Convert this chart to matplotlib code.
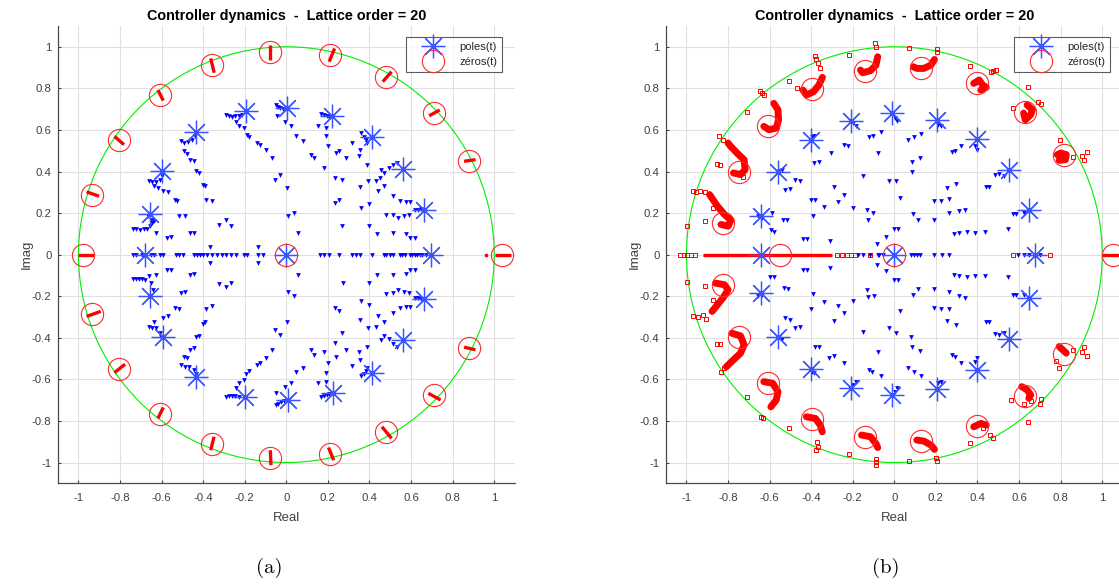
import matplotlib
matplotlib.use('Agg')
import matplotlib.pyplot as plt
from matplotlib.lines import Line2D
from matplotlib.patches import Circle

plt.rcParams['font.family'] = ['Liberation Sans', 'DejaVu Sans']

# ---------------- texts ----------------
TITLE = 'Controller dynamics  -  Lattice order = 20'
X_LABEL = 'Real'
Y_LABEL = 'Imag'
LEGEND_LABELS = ['poles(t)', 'zéros(t)']
CAPTIONS = ['(a)', '(b)']
TICKS = [-1, -0.8, -0.6, -0.4, -0.2, 0, 0.2, 0.4, 0.6, 0.8, 1]
TICK_LABELS = ['-1', '-0.8', '-0.6', '-0.4', '-0.2', '0', '0.2', '0.4', '0.6', '0.8', '1']

# ---------------- panel (a) data ----------------
a_poles = [(0.695, 0.0), (0.663, 0.217), (0.561, 0.412), (0.412, 0.566), (0.218, 0.669),
           (0.005, 0.704), (-0.196, 0.689), (-0.433, 0.589), (-0.596, 0.401), (-0.656, 0.196),
           (-0.680, 0.0), (0.0, 0.0), (-0.656, -0.198), (-0.592, -0.397), (-0.434, -0.587),
           (-0.201, -0.683), (0.009, -0.699), (0.223, -0.667), (0.412, -0.567), (0.563, -0.410),
           (0.663, -0.214)]
a_zeros = [(-0.979, 0.0), (-0.934, 0.289), (-0.807, 0.553), (-0.608, 0.768), (-0.359, 0.912),
           (-0.077, 0.976), (0.209, 0.960), (0.481, 0.856), (0.712, 0.681), (0.879, 0.449),
           (1.039, 0.0), (0.0, 0.0), (-0.934, -0.286), (-0.807, -0.550), (-0.608, -0.767),
           (-0.359, -0.913), (-0.077, -0.977), (0.209, -0.961), (0.481, -0.855), (0.711, -0.675),
           (0.879, -0.447)]
a_zero_tracks = [((-0.961, 0.302), (-0.901, 0.281)), ((-0.827, 0.569), (-0.781, 0.529)),
                 ((-0.618, 0.792), (-0.592, 0.741)), ((-0.364, 0.944), (-0.347, 0.875)),
                 ((-0.077, 1.008), (-0.077, 0.936)), ((0.232, 0.992), (0.206, 0.928)),
                 ((0.506, 0.880), (0.464, 0.832)), ((0.738, 0.696), (0.687, 0.668)),
                 ((0.910, 0.457), (0.855, 0.449)),
                 ((-0.961, -0.297), (-0.893, -0.273)), ((-0.827, -0.568), (-0.776, -0.527)),
                 ((-0.618, -0.788), (-0.592, -0.735)), ((-0.364, -0.941), (-0.348, -0.876)),
                 ((-0.074, -1.013), (-0.077, -0.941)), ((0.228, -0.989), (0.203, -0.928)),
                 ((0.506, -0.884), (0.460, -0.828)), ((0.742, -0.699), (0.683, -0.667)),
                 ((0.910, -0.458), (0.855, -0.445)),
                 ((-1.0, 0.0), (-0.924, 0.0)), ((1.004, 0.0), (1.082, 0.0))]
a_zero_dots = [(0.961, 0.0), (0.0, 0.0)]

a_track_upper = [
    (-0.29, 0.672), (-0.275, 0.665), (-0.26, 0.662), (-0.245, 0.665), (-0.23, 0.668), (-0.215, 0.672),
    (-0.24, 0.64), (-0.23, 0.62), (-0.206, 0.609), (-0.19, 0.577), (-0.18, 0.566), (-0.14, 0.537),
    (-0.125, 0.526), (-0.10, 0.505), (-0.07, 0.465), (-0.055, 0.361), (-0.03, 0.385), (0.005, 0.321),
    (0.009, 0.188), (0.038, 0.201), (0.057, 0.105),
    (-0.05, 0.718), (-0.04, 0.712), (-0.03, 0.705), (-0.015, 0.70), (-0.043, 0.665), (-0.005, 0.64),
    (0.02, 0.62), (0.046, 0.569), (0.082, 0.545), (0.12, 0.48), (0.134, 0.465), (0.18, 0.417),
    (0.232, 0.369), (0.266, 0.361), (0.232, 0.249), (0.254, 0.265), (0.27, 0.14),
    (0.165, 0.675), (0.18, 0.67), (0.195, 0.665), (0.205, 0.66), (0.151, 0.62), (0.192, 0.609),
    (0.189, 0.569), (0.2, 0.521), (0.24, 0.489), (0.254, 0.497), (0.288, 0.465), (0.355, 0.324),
    (0.391, 0.353), (0.357, 0.225), (0.398, 0.246), (0.398, 0.137), (0.438, 0.097),
    (0.36, 0.585), (0.375, 0.565), (0.385, 0.55), (0.39, 0.535), (0.318, 0.537), (0.352, 0.505),
    (0.349, 0.473), (0.386, 0.433), (0.455, 0.409), (0.443, 0.305), (0.47, 0.33),
    (0.429, 0.353), (0.45, 0.37), (0.472, 0.393), (0.494, 0.417), (0.512, 0.433), (0.53, 0.44),
    (0.512, 0.281), (0.545, 0.258), (0.575, 0.252), (0.597, 0.252),
    (0.62, 0.217), (0.635, 0.217), (0.65, 0.22), (0.515, 0.193), (0.481, 0.193), (0.536, 0.174),
    (0.566, 0.185), (0.592, 0.193), (0.512, 0.105), (0.575, 0.097), (0.597, 0.081), (0.621, 0.081),
    (-0.506, 0.545), (-0.49, 0.535), (-0.472, 0.540), (-0.455, 0.553), (-0.44, 0.57), (-0.494, 0.497),
    (-0.477, 0.486), (-0.464, 0.457), (-0.446, 0.449), (-0.433, 0.401), (-0.419, 0.393),
    (-0.403, 0.337), (-0.391, 0.329), (-0.386, 0.265), (-0.357, 0.257), (-0.326, 0.145),
    (-0.292, 0.166), (-0.266, 0.137),
    (-0.661, 0.353), (-0.644, 0.348), (-0.627, 0.348), (-0.61, 0.361), (-0.598, 0.377),
    (-0.639, 0.329), (-0.618, 0.321), (-0.592, 0.305), (-0.57, 0.300), (-0.536, 0.265),
    (-0.524, 0.257), (-0.515, 0.188), (-0.489, 0.185), (-0.464, 0.105), (-0.446, 0.102),
    (-0.575, 0.081), (-0.553, 0.084),
    (-0.738, 0.121), (-0.721, 0.121), (-0.704, 0.118), (-0.687, 0.121), (-0.670, 0.125),
    (-0.656, 0.137), (-0.644, 0.153), (-0.652, 0.169), (-0.635, 0.161), (-0.666, 0.185),
    (-0.627, 0.105), (-0.369, 0.038), (-0.134, 0.038)]

a_track_lower = [
    (-0.74, -0.117), (-0.725, -0.117), (-0.71, -0.115), (-0.695, -0.117), (-0.68, -0.12),
    (-0.652, -0.137), (-0.643, -0.169), (-0.661, -0.105), (-0.627, -0.096), (-0.575, -0.076),
    (-0.553, -0.076),
    (-0.661, -0.349), (-0.645, -0.352), (-0.627, -0.352), (-0.610, -0.376), (-0.602, -0.397),
    (-0.635, -0.322), (-0.592, -0.305), (-0.570, -0.297), (-0.536, -0.257), (-0.518, -0.262),
    (-0.506, -0.185), (-0.489, -0.182), (-0.464, -0.096), (-0.446, -0.093),
    (-0.506, -0.531), (-0.489, -0.539), (-0.467, -0.542), (-0.446, -0.555), (-0.433, -0.574),
    (-0.494, -0.490), (-0.477, -0.498), (-0.464, -0.458), (-0.446, -0.450), (-0.433, -0.397),
    (-0.419, -0.390), (-0.403, -0.333), (-0.391, -0.326), (-0.386, -0.262), (-0.357, -0.249),
    (-0.326, -0.140), (-0.292, -0.156), (-0.266, -0.137),
    (-0.29, -0.685), (-0.275, -0.680), (-0.26, -0.678), (-0.245, -0.680), (-0.23, -0.684),
    (-0.240, -0.643), (-0.227, -0.619), (-0.206, -0.603), (-0.192, -0.574), (-0.180, -0.562),
    (-0.141, -0.531), (-0.125, -0.523), (-0.10, -0.498), (-0.069, -0.458), (-0.055, -0.362),
    (-0.031, -0.386), (0.005, -0.322), (0.009, -0.182), (0.038, -0.201), (0.057, -0.096),
    (-0.05, -0.725), (-0.04, -0.72), (-0.025, -0.71), (-0.01, -0.705), (-0.052, -0.664),
    (-0.005, -0.638), (0.021, -0.619), (0.046, -0.563), (0.082, -0.547), (0.12, -0.458),
    (0.134, -0.482), (0.180, -0.466), (0.232, -0.423), (0.266, -0.378), (0.232, -0.257),
    (0.254, -0.273), (0.271, -0.137),
    (0.165, -0.685), (0.18, -0.68), (0.195, -0.675), (0.205, -0.668), (0.151, -0.619),
    (0.192, -0.611), (0.189, -0.567), (0.2, -0.523), (0.24, -0.490), (0.288, -0.458),
    (0.355, -0.313), (0.391, -0.354), (0.357, -0.225), (0.398, -0.241), (0.398, -0.137),
    (0.438, -0.096),
    (0.36, -0.585), (0.372, -0.572), (0.385, -0.560), (0.39, -0.545), (0.318, -0.535),
    (0.352, -0.506), (0.349, -0.466), (0.386, -0.442), (0.455, -0.410), (0.443, -0.297),
    (0.472, -0.322),
    (0.429, -0.346), (0.472, -0.391), (0.494, -0.407), (0.512, -0.43), (0.532, -0.446),
    (0.512, -0.281), (0.545, -0.257), (0.575, -0.252), (0.597, -0.252),
    (0.62, -0.209), (0.635, -0.209), (0.65, -0.212), (0.515, -0.185), (0.481, -0.190),
    (0.536, -0.169), (0.566, -0.182), (0.592, -0.185), (0.512, -0.100), (0.575, -0.092),
    (0.597, -0.076), (0.621, -0.072), (-0.369, -0.038), (-0.134, -0.038)]

a_track_real = [-0.738, -0.721, -0.695, -0.652, -0.635, -0.610, -0.593, -0.532, -0.515, -0.498,
                -0.446, -0.429, -0.415, -0.403, -0.381, -0.357, -0.335, -0.309, -0.288, -0.266,
                -0.240, -0.206, -0.189, -0.137, -0.112, 0.163, 0.180, 0.206, 0.254, 0.318, 0.335,
                0.352, 0.412, 0.469, 0.481, 0.498, 0.515, 0.546, 0.558, 0.570, 0.594, 0.606, 0.618,
                0.630, 0.642, 0.654, 0.670]

# ---------------- panel (b) data ----------------
b_poles = [(-0.640, 0.0), (-0.642, 0.188), (-0.560, 0.396), (-0.401, 0.553), (-0.209, 0.645),
           (-0.009, 0.681), (0.205, 0.649), (0.396, 0.556), (0.550, 0.406), (0.647, 0.214),
           (0.678, 0.0), (0.0, 0.0), (-0.642, -0.185), (-0.560, -0.394), (-0.401, -0.550),
           (-0.209, -0.643), (-0.009, -0.675), (0.205, -0.648), (0.396, -0.554), (0.550, -0.405),
           (0.647, -0.209)]
b_zeros = [(-0.551, 0.0), (1.05, 0.0), (0.0, 0.0), (-0.822, 0.153), (-0.748, 0.398),
           (-0.606, 0.620), (-0.397, 0.796), (-0.140, 0.885), (0.130, 0.896), (0.396, 0.827),
           (0.630, 0.684), (0.818, 0.478), (-0.822, -0.145), (-0.748, -0.394), (-0.606, -0.619),
           (-0.397, -0.793), (-0.140, -0.879), (0.130, -0.896), (0.396, -0.825), (0.630, -0.680),
           (0.818, -0.478)]
b_zero_blobs = [
    [(-0.889, 0.289), (-0.851, 0.233), (-0.817, 0.193), (-0.786, 0.166), (-0.80, 0.137), (-0.834, 0.145)],
    [(-0.80, 0.537), (-0.791, 0.525), (-0.757, 0.489), (-0.723, 0.457), (-0.718, 0.409), (-0.740, 0.385), (-0.774, 0.393)],
    [(-0.580, 0.728), (-0.560, 0.697), (-0.557, 0.649), (-0.568, 0.609), (-0.603, 0.601), (-0.628, 0.617)],
    [(-0.346, 0.853), (-0.363, 0.816), (-0.389, 0.784), (-0.423, 0.768), (-0.440, 0.792)],
    [(-0.080, 0.952), (-0.089, 0.911), (-0.115, 0.885), (-0.152, 0.875), (-0.163, 0.888)],
    [(0.193, 0.939), (0.176, 0.912), (0.142, 0.896), (0.108, 0.896), (0.091, 0.904)],
    [(0.382, 0.824), (0.408, 0.840), (0.425, 0.816), (0.442, 0.805), (0.416, 0.792)],
    [(0.639, 0.720), (0.664, 0.697), (0.656, 0.673), (0.630, 0.649), (0.622, 0.681)],
    [(0.784, 0.481), (0.801, 0.489), (0.827, 0.481), (0.823, 0.457), (0.793, 0.454)],
    [(-0.860, -0.137), (-0.817, -0.145), (-0.800, -0.169), (-0.825, -0.209), (-0.851, -0.241), (-0.877, -0.273)],
    [(-0.782, -0.378), (-0.740, -0.391), (-0.723, -0.434), (-0.740, -0.474), (-0.774, -0.506), (-0.808, -0.539)],
    [(-0.628, -0.611), (-0.585, -0.619), (-0.560, -0.659), (-0.568, -0.699), (-0.594, -0.732)],
    [(-0.423, -0.780), (-0.380, -0.788), (-0.356, -0.820), (-0.347, -0.852)],
    [(-0.158, -0.868), (-0.115, -0.876), (-0.089, -0.908), (-0.080, -0.928)],
    [(0.108, -0.892), (0.142, -0.897), (0.176, -0.916), (0.193, -0.937)],
    [(0.382, -0.828), (0.416, -0.812), (0.442, -0.820)],
    [(0.613, -0.635), (0.639, -0.651), (0.656, -0.675), (0.647, -0.691)],
    [(0.793, -0.442), (0.810, -0.458), (0.827, -0.474)]]
b_zero_real_lines = [[(-0.920, 0.0), (-0.300, 0.0)], [(0.998, 0.0), (1.12, 0.0)]]
b_zero_scatter = [
    (-0.911, 0.161), (-0.872, 0.225), (-0.997, 0.137), (-0.971, 0.305), (-0.954, 0.300),
    (-0.937, 0.305), (-0.911, 0.300), (-0.854, 0.438), (-0.837, 0.433), (-0.842, 0.569),
    (-0.825, 0.553), (-0.728, 0.374), (-0.711, 0.685), (-0.646, 0.789), (-0.637, 0.780),
    (-0.625, 0.768), (-0.509, 0.837), (-0.466, 0.800), (-0.380, 0.955), (-0.375, 0.939),
    (-0.368, 0.920), (-0.358, 0.896), (-0.217, 0.960), (-0.092, 1.016), (-0.089, 1.0),
    (0.070, 0.992), (0.207, 0.987), (0.203, 0.977), (0.365, 0.907), (0.464, 0.880),
    (0.476, 0.885), (0.488, 0.888), (0.644, 0.805), (0.570, 0.704), (0.690, 0.736),
    (0.704, 0.725), (0.798, 0.553), (0.861, 0.470), (0.904, 0.473), (0.913, 0.454),
    (0.927, 0.492),
    (-0.997, -0.132), (-0.911, -0.153), (-0.971, -0.297), (-0.945, -0.302), (-0.920, -0.289),
    (-0.906, -0.310), (-0.872, -0.220), (-0.851, -0.431), (-0.837, -0.429), (-0.834, -0.563),
    (-0.820, -0.547), (-0.711, -0.683), (-0.642, -0.780), (-0.632, -0.788), (-0.509, -0.836),
    (-0.372, -0.900), (-0.375, -0.941), (-0.368, -0.924), (-0.217, -0.957), (-0.089, -0.981),
    (-0.089, -1.013), (-0.089, -0.997), (0.070, -0.992), (0.202, -0.976), (0.207, -0.992),
    (0.365, -0.905), (0.459, -0.868), (0.476, -0.884), (0.425, -0.836), (0.562, -0.699),
    (0.622, -0.719), (0.656, -0.703), (0.699, -0.719), (0.704, -0.696), (0.644, -0.804),
    (0.776, -0.514), (0.793, -0.547), (0.861, -0.458), (0.904, -0.466), (0.927, -0.487),
    (0.913, -0.445),
    (-1.031, 0.0), (-1.014, 0.0), (-0.997, 0.0), (-0.979, 0.0), (-0.957, 0.0), (-0.277, 0.0),
    (-0.252, 0.0), (-0.226, 0.0), (-0.209, 0.0), (-0.187, 0.0), (-0.115, 0.0),
    (0.570, 0.0), (0.747, 0.0), (0.0, 0.0)]

b_track = [
    (-0.385, 0.441), (-0.363, 0.444), (-0.303, 0.489), (-0.243, 0.526), (-0.221, 0.521),
    (-0.526, 0.310), (-0.500, 0.316), (-0.478, 0.361), (-0.452, 0.353), (-0.401, 0.262),
    (-0.384, 0.265), (-0.337, 0.230), (-0.289, 0.326), (-0.269, 0.254), (-0.240, 0.289),
    (-0.197, 0.225), (-0.149, 0.377), (-0.123, 0.565), (-0.101, 0.569), (-0.080, 0.489),
    (-0.063, 0.588), (-0.132, 0.214), (-0.101, 0.201), (-0.128, 0.169), (-0.024, 0.353),
    (-0.594, 0.117), (-0.577, 0.109), (-0.534, 0.166), (-0.517, 0.169), (-0.440, 0.073),
    (-0.420, 0.077), (-0.392, 0.185), (-0.308, 0.065), (-0.084, 0.050), (-0.038, 0.085),
    (-0.003, 0.125), (0.019, 0.125), (0.027, 0.273), (0.010, 0.353), (-0.591, 0.201),
    (0.065, 0.553), (0.096, 0.564), (0.128, 0.581), (0.086, 0.444), (0.125, 0.465),
    (0.086, 0.396), (0.091, 0.196), (0.113, 0.169), (0.190, 0.257), (0.224, 0.260),
    (0.265, 0.268), (0.190, 0.169), (0.253, 0.321), (0.262, 0.201), (0.279, 0.492),
    (0.292, 0.497), (0.296, 0.342), (0.322, 0.521), (0.310, 0.209), (0.339, 0.214),
    (0.348, 0.110), (0.390, 0.105), (0.438, 0.110), (0.288, 0.097), (0.310, 0.105),
    (0.442, 0.326), (0.455, 0.326), (0.485, 0.385), (0.502, 0.390), (0.545, 0.121),
    (0.570, 0.196), (0.587, 0.196),
    (0.005, 0.657), (0.014, 0.645), (-0.197, 0.633), (-0.183, 0.617), (-0.397, 0.565),
    (-0.385, 0.572), (-0.556, 0.401), (-0.539, 0.409), (-0.654, 0.185), (-0.635, 0.177),
    (0.211, 0.625), (0.224, 0.617), (0.390, 0.521), (0.399, 0.505), (0.527, 0.377),
    (0.622, 0.201),
    (-0.440, -0.072), (-0.420, -0.072), (-0.598, -0.109), (-0.581, -0.109), (-0.529, -0.161),
    (-0.514, -0.164), (-0.392, -0.188), (-0.337, -0.228), (-0.308, -0.064), (-0.269, -0.249),
    (-0.240, -0.281), (-0.197, -0.225), (-0.132, -0.172), (-0.128, -0.204), (-0.098, -0.198),
    (-0.084, -0.051), (-0.038, -0.080), (-0.003, -0.121), (0.019, -0.121), (0.027, -0.273),
    (-0.024, -0.354), (0.010, -0.378), (-0.526, -0.305), (-0.500, -0.314), (-0.478, -0.354),
    (-0.452, -0.349), (-0.401, -0.262), (-0.384, -0.442), (-0.363, -0.442), (-0.312, -0.498),
    (-0.289, -0.487), (-0.289, -0.318), (-0.243, -0.523), (-0.149, -0.370), (-0.123, -0.555),
    (-0.106, -0.563), (-0.080, -0.466), (-0.063, -0.582), (0.065, -0.547), (0.096, -0.563),
    (0.128, -0.582), (0.082, -0.397), (0.087, -0.442), (0.122, -0.463), (0.091, -0.193),
    (0.113, -0.166), (0.190, -0.166), (0.190, -0.257), (0.224, -0.260), (0.265, -0.260),
    (0.253, -0.317), (0.262, -0.182), (0.279, -0.482), (0.292, -0.492), (0.296, -0.338),
    (0.322, -0.523), (0.310, -0.198), (0.339, -0.209), (0.288, -0.096), (0.310, -0.101),
    (0.348, -0.108), (0.390, -0.104), (0.438, -0.104), (0.442, -0.325), (0.455, -0.325),
    (0.485, -0.383), (0.502, -0.386), (0.545, -0.109), (0.570, -0.193), (0.587, -0.193),
    (0.005, -0.659), (0.014, -0.643), (-0.197, -0.627), (-0.183, -0.611), (-0.397, -0.563),
    (-0.385, -0.571), (-0.556, -0.397), (-0.539, -0.407), (-0.654, -0.201), (-0.635, -0.193),
    (0.211, -0.619), (0.224, -0.611), (0.390, -0.515), (0.399, -0.498), (0.527, -0.378),
    (0.622, -0.193)]
b_track_real = [-0.175, -0.149, -0.115, -0.080, -0.072, -0.055, 0.082, 0.095, 0.108, 0.125,
                0.190, 0.228, 0.262, 0.596, 0.622, 0.647, 0.699]

# ---------------- styling ----------------
W, H = 1119, 585
STAR = (8, 2, 0)
BLUE = '#0000ff'
STAR_COLOR = '#3a55ff'
RED = '#ff0000'
CIRCLE_COLOR = '#ff2a2a'
GREEN = '#00ee00'
GRID = '#e0e0e0'
LIM = (-1.1, 1.1)
DOT_MS = 3.4

fig = plt.figure(figsize=(W / 100, H / 100), dpi=100)

ax_w = 457.3 / W
ax_h = 457.3 / H
bottom = (H - 483.3) / H
axA = fig.add_axes([57.7 / W, bottom, ax_w, ax_h])
axB = fig.add_axes([665.7 / W, bottom, ax_w, ax_h])


def xs(pts):
    return [p[0] for p in pts]


def ys(pts):
    return [p[1] for p in pts]


def style_axes(ax):
    ax.set_xlim(*LIM)
    ax.set_ylim(*LIM)
    ax.set_xticks(TICKS)
    ax.set_xticklabels(TICK_LABELS)
    ax.set_yticks(TICKS)
    ax.set_yticklabels(TICK_LABELS)
    ax.grid(True, color=GRID, linewidth=0.75)
    ax.set_axisbelow(True)
    for s in ('top', 'right'):
        ax.spines[s].set_visible(False)
    for s in ('left', 'bottom'):
        ax.spines[s].set_color('#4a4a4a')
        ax.spines[s].set_linewidth(0.9)
    ax.tick_params(axis='x', direction='in', length=2.5, width=0.8, colors='#404040',
                   labelsize=8.2, pad=7.0)
    ax.tick_params(axis='y', direction='in', length=2.5, width=0.8, colors='#404040',
                   labelsize=8.2, pad=4.5)
    ax.set_xlabel(X_LABEL, fontsize=9.5, color='#404040', labelpad=6.5)
    ax.set_ylabel(Y_LABEL, fontsize=9.5, color='#404040', labelpad=-0.5)
    ax.set_title(TITLE, fontsize=10.4, fontweight='bold', pad=4.5)


def unit_circle(ax):
    ax.add_patch(Circle((0, 0), 1.0, fill=False, edgecolor=GREEN, linewidth=0.8, zorder=2))


def legend(ax):
    h = [Line2D([], [], ls='none', marker=STAR, color=STAR_COLOR, markersize=17, markeredgewidth=0.9),
         Line2D([], [], ls='none', marker='o', markerfacecolor='none', markeredgecolor=CIRCLE_COLOR,
                markersize=16, markeredgewidth=0.8)]
    leg = ax.legend(h, LEGEND_LABELS, loc='upper right', bbox_to_anchor=(0.972, 0.977),
                    borderaxespad=0, fontsize=8, frameon=True, fancybox=False,
                    handlelength=3.9, handletextpad=0.4, borderpad=0.45, labelspacing=0.5,
                    markerscale=1.0)
    leg.get_frame().set_edgecolor('#333333')
    leg.get_frame().set_linewidth(0.8)
    for t in leg.get_texts():
        t.set_color('#262626')


# ---- panel (a) ----
style_axes(axA)
unit_circle(axA)
for seg in a_zero_tracks:
    axA.plot(xs(seg), ys(seg), color=RED, linewidth=2.4, solid_capstyle='butt', zorder=3)
axA.plot(xs(a_zero_dots), ys(a_zero_dots), ls='none', marker='s', ms=2, color=RED, zorder=3)
axA.plot(xs(a_track_upper), ys(a_track_upper), ls='none', marker='v', ms=DOT_MS, color=BLUE, mew=0, zorder=4)
axA.plot(xs(a_track_lower), ys(a_track_lower), ls='none', marker='v', ms=DOT_MS, color=BLUE, mew=0, zorder=4)
axA.plot(a_track_real, [0] * len(a_track_real), ls='none', marker='v', ms=DOT_MS, color=BLUE, mew=0, zorder=4)
axA.plot(xs(a_poles), ys(a_poles), ls='none', marker=STAR, ms=17, color=STAR_COLOR, mew=0.9, zorder=5)
axA.plot(xs(a_zeros), ys(a_zeros), ls='none', marker='o', ms=16, mfc='none', mec=CIRCLE_COLOR,
         mew=0.8, zorder=5)
legend(axA)

# ---- panel (b) ----
style_axes(axB)
unit_circle(axB)
for blob in b_zero_blobs:
    axB.plot(xs(blob), ys(blob), color=RED, linewidth=5.0, solid_capstyle='round',
             solid_joinstyle='round', zorder=3)
for line in b_zero_real_lines:
    axB.plot(xs(line), ys(line), color=RED, linewidth=2.4, solid_capstyle='butt', zorder=3)
axB.plot(xs(b_zero_scatter), ys(b_zero_scatter), ls='none', marker='s', ms=2.2, mfc='none',
         mec=RED, mew=0.7, zorder=3)
axB.plot(xs(b_track), ys(b_track), ls='none', marker='v', ms=DOT_MS, color=BLUE, mew=0, zorder=4)
axB.plot(b_track_real, [0] * len(b_track_real), ls='none', marker='v', ms=DOT_MS, color=BLUE, mew=0, zorder=4)
axB.plot(xs(b_poles), ys(b_poles), ls='none', marker=STAR, ms=17, color=STAR_COLOR, mew=0.9, zorder=5)
axB.plot(xs(b_zeros), ys(b_zeros), ls='none', marker='o', ms=16, mfc='none', mec=CIRCLE_COLOR,
         mew=0.8, zorder=5)
legend(axB)

# ---- captions ----
fig.text(269 / W, 1 - 568 / H, CAPTIONS[0], family='cmr10', fontsize=15, ha='center', va='center')
fig.text(886 / W, 1 - 568 / H, CAPTIONS[1], family='cmr10', fontsize=15, ha='center', va='center')

fig.savefig('out.png', dpi=100)
